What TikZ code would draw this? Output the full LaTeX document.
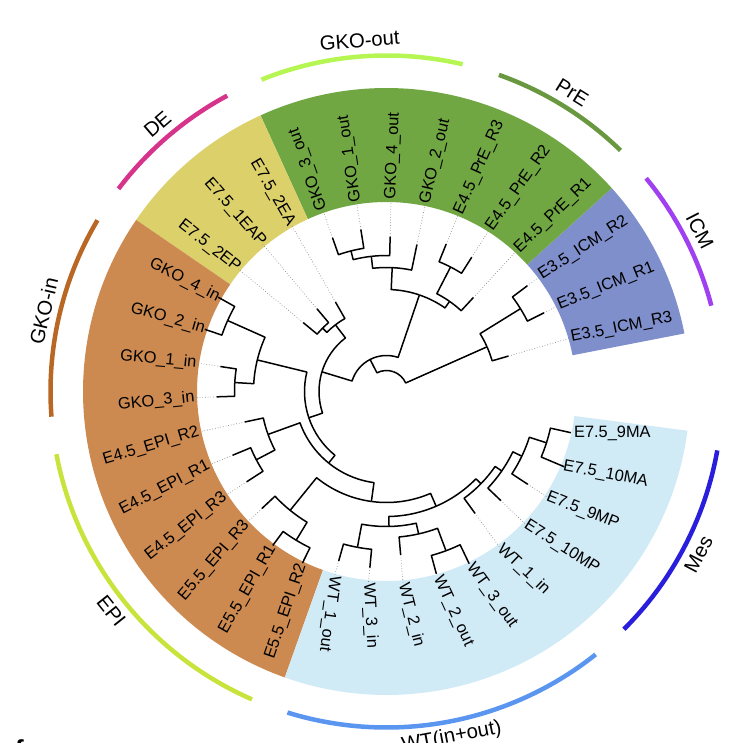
\documentclass[tikz,border=0pt]{standalone}
\usepackage{fontspec}
\setmainfont{Liberation Sans}
\definecolor{secgreen}{RGB}{112,167,67}
\definecolor{secicm}{RGB}{127,143,204}
\definecolor{secde}{RGB}{220,208,107}
\definecolor{secorange}{RGB}{204,138,81}
\definecolor{secblue}{RGB}{208,234,246}
\definecolor{arcgkoout}{RGB}{182,246,82}
\definecolor{arcpre}{RGB}{106,152,64}
\definecolor{arcicm}{RGB}{160,64,240}
\definecolor{arcde}{RGB}{214,51,138}
\definecolor{arcgkoin}{RGB}{184,104,36}
\definecolor{arcepi}{RGB}{200,228,60}
\definecolor{arcwt}{RGB}{90,150,240}
\definecolor{arcmes}{RGB}{40,30,220}
\newcommand\sectorfill[3]{\fill[#1] (#2:189.5pt) arc[start angle=#2,end angle=#3,radius=189.5pt] -- (#3:303.5pt) arc[start angle=#3,end angle=#2,radius=303.5pt] -- cycle;}
\newcommand\defnode[3]{\expandafter\def\csname ang#1\endcsname{#2}\expandafter\def\csname rad#1\endcsname{#3}\coordinate (#1) at (#2:#3pt);}
\newcommand\tedge[2]{\edef\tgA{\csname ang#1\endcsname}\edef\tgB{\csname ang#2\endcsname}\edef\tgR{\csname rad#1\endcsname}%
  \draw[branch] (#1) arc[start angle=\tgA, end angle=\tgB, radius=\tgR pt] -- (#2);}
\newcommand\grouparc[6]{% name, color, a1, a2, text, rotation
  \draw[grparc, #2] (#3:336pt) arc[start angle=#3, end angle=#4, radius=336pt];
  \pgfmathsetmacro\gmid{(#3+#4)/2}
  \node[grplab, rotate=#6] (#1) at (\gmid:352pt) {#5};}
\begin{document}
\begin{tikzpicture}[
  branch/.style={draw=black, line width=1.5pt, line join=round},
  leader/.style={draw=black!45, line width=0.7pt, dotted},
  tiplab/.style={inner sep=0pt, font=\fontsize{16.4}{18}\selectfont},
  grplab/.style={inner sep=0pt, font=\fontsize{20.3}{22}\selectfont},
  grparc/.style={line width=4.5pt},
]
\useasboundingbox (0,0) rectangle (747pt,-743pt);
\clip (0,0) rectangle (747pt,-743pt);
\node[inner sep=0pt, anchor=north west, font=\bfseries\fontsize{26}{28}\selectfont] (fpanel) at (15pt,-739pt) {f};
\begin{scope}[shift={(386.5pt,-391.5pt)}]
% coloured sectors
\sectorfill{secicm}{11.025}{42.075}
\sectorfill{secgreen}{42.075}{114.525}
\sectorfill{secde}{114.525}{145.575}
\sectorfill{secorange}{145.575}{250.425}
\sectorfill{secblue}{250.425}{352.575}
% group arcs and labels
\grouparc{gGKOout}{arcgkoout}{76.9}{111.85}{GKO-out}{4.4}
\grouparc{gPrE}{arcpre}{45.85}{70.45}{PrE}{-31.85}
\grouparc{gICM}{arcicm}{14.8}{39.4}{ICM}{-62.9}
\grouparc{gDE}{arcde}{118.3}{142.9}{DE}{40.6}
\grouparc{gGKOin}{arcgkoin}{149.35}{184.3}{GKO-in}{76.8}
\grouparc{gEPI}{arcepi}{190.75}{246.4}{EPI}{-51.4}
\grouparc{gWT}{arcwt}{252.85}{308.5}{WT(in+out)}{10.7}
\grouparc{gMes}{arcmes}{314.95}{349.9}{Mes}{62.4}
% leaves
\foreach \i/\nm/\tr in {0/E3.5\_ICM\_R3/127, 1/E3.5\_ICM\_R1/176, 2/E3.5\_ICM\_R2/176,
  3/E4.5\_PrE\_R1/128, 4/E4.5\_PrE\_R2/159, 5/E4.5\_PrE\_R3/159,
  6/GKO\_2\_out/150, 7/GKO\_4\_out/155, 8/GKO\_1\_out/164, 9/GKO\_3\_out/163,
  10/E7.5\_2EA/103, 11/E7.5\_1EAP/108, 12/E7.5\_2EP/108,
  13/GKO\_4\_in/193, 14/GKO\_2\_in/192, 15/GKO\_1\_in/168, 16/GKO\_3\_in/170,
  17/E4.5\_EPI\_R2/145, 18/E4.5\_EPI\_R1/166.5, 19/E4.5\_EPI\_R3/166.5,
  20/E5.5\_EPI\_R3/171, 21/E5.5\_EPI\_R1/191.5, 22/E5.5\_EPI\_R2/191,
  23/WT\_1\_out/176, 24/WT\_3\_in/177, 25/WT\_2\_in/164, 26/WT\_2\_out/189,
  27/WT\_3\_out/191, 28/WT\_1\_in/150.6, 29/E7.5\_10MP/158, 30/E7.5\_9MP/169,
  31/E7.5\_10MA/193, 32/E7.5\_9MA/189}{
  \pgfmathsetmacro\pa{16.2+10.35*\i}
  \pgfmathsetmacro\ra{11.2+10.909*\i}
  \expandafter\xdef\csname angT\i\endcsname{\pa}
  \coordinate (T\i) at (\pa:\tr pt);
  \pgfmathtruncatemacro\flip{(\i>9)&&(\i<23)}
  \ifnum\flip=1
    \pgfmathsetmacro\ra{\ra+180}\def\anc{east}
  \else
    \def\anc{west}
  \fi
  \node[tiplab, anchor=\anc, rotate=\ra] (L\i) at (\pa:192pt) {\nm};
  \pgfmathtruncatemacro\needl{\tr<187}
  \ifnum\needl=1
    \draw[leader] (T\i) -- (L\i.\anc);
  \fi
}
% internal nodes: name, angle, radius
\defnode{nR}{70.54}{21}
\defnode{nI1}{23.96}{110}
\defnode{nI2}{31.725}{157.5}
\defnode{nX}{117.12}{36}
\defnode{nN3}{71.18}{102}
\defnode{nG1}{87.36}{124}
\defnode{nG2}{96.41}{136}
\defnode{nG3}{104.175}{145}
\defnode{nN2}{55.01}{110}
\defnode{nN1}{62.775}{140}
\defnode{nB}{163.06}{67.5}
\defnode{nDE2}{127.46}{84}
\defnode{nDE1}{135.225}{90}
\defnode{nA}{198.66}{82}
\defnode{nK2}{166.275}{133}
\defnode{nK1}{155.925}{174}
\defnode{nK3}{176.625}{152}
\defnode{nD}{231.04}{92}
\defnode{nP}{199.91}{126}
\defnode{nQ}{207.675}{147}
\defnode{nE}{262.17}{111}
\defnode{nF}{230.96}{153}
\defnode{nFF}{238.725}{174}
\defnode{nG}{293.39}{125}
\defnode{nH}{271.07}{135}
\defnode{nHa}{259.425}{158.5}
\defnode{nHb}{282.71}{146}
\defnode{nHc}{290.475}{170}
\defnode{nK}{315.7}{132}
\defnode{nL}{325.4}{140}
\defnode{nMb}{334.46}{150}
\defnode{nMa}{342.225}{168}
% branches
\tedge{nR}{nI1}\tedge{nR}{nX}
\tedge{nI1}{T0}\tedge{nI1}{nI2}
\tedge{nI2}{T1}\tedge{nI2}{T2}
\tedge{nX}{nN3}\tedge{nX}{nB}
\tedge{nN3}{nG1}\tedge{nN3}{nN2}
\tedge{nG1}{T6}\tedge{nG1}{nG2}
\tedge{nG2}{T7}\tedge{nG2}{nG3}
\tedge{nG3}{T8}\tedge{nG3}{T9}
\tedge{nN2}{T3}\tedge{nN2}{nN1}
\tedge{nN1}{T4}\tedge{nN1}{T5}
\tedge{nB}{nDE2}\tedge{nB}{nA}
\tedge{nDE2}{T10}\tedge{nDE2}{nDE1}
\tedge{nDE1}{T11}\tedge{nDE1}{T12}
\tedge{nA}{nK2}\tedge{nA}{nD}
\tedge{nK2}{nK1}\tedge{nK2}{nK3}
\tedge{nK1}{T13}\tedge{nK1}{T14}
\tedge{nK3}{T15}\tedge{nK3}{T16}
\tedge{nD}{nP}\tedge{nD}{nE}
\tedge{nP}{T17}\tedge{nP}{nQ}
\tedge{nQ}{T18}\tedge{nQ}{T19}
\tedge{nE}{nF}\tedge{nE}{nG}
\tedge{nF}{T20}\tedge{nF}{nFF}
\tedge{nFF}{T21}\tedge{nFF}{T22}
\tedge{nG}{nH}\tedge{nG}{nK}
\tedge{nH}{nHa}\tedge{nH}{nHb}
\tedge{nHa}{T23}\tedge{nHa}{T24}
\tedge{nHb}{T25}\tedge{nHb}{nHc}
\tedge{nHc}{T26}\tedge{nHc}{T27}
\tedge{nK}{T28}\tedge{nK}{nL}
\tedge{nL}{T29}\tedge{nL}{nMb}
\tedge{nMb}{T30}\tedge{nMb}{nMa}
\tedge{nMa}{T31}\tedge{nMa}{T32}
\end{scope}
\end{tikzpicture}
\end{document}
